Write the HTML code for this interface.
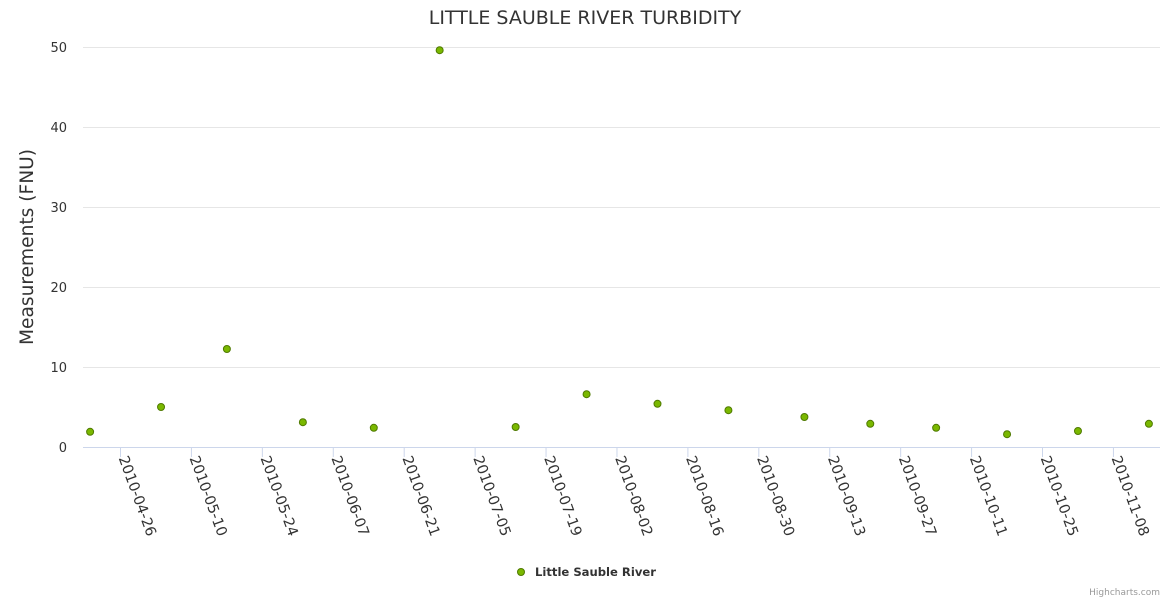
<!DOCTYPE html>
<html><head><meta charset="utf-8"><style>
body{margin:0;background:#fff;font-family:"DejaVu Sans","Liberation Sans",sans-serif}
</style></head><body>
<svg id="c" width="1170" height="600">
<text x="585" y="24" text-anchor="middle" font-size="19" fill="#333">LITTLE SAUBLE RIVER TURBIDITY</text>
<text transform="translate(33,247) rotate(-90)" text-anchor="middle" font-size="18.6" fill="#333">Measurements (FNU)</text>
<g id="grid"></g><g id="xaxis"></g><g id="pts"></g>
<g>
<circle cx="521" cy="572" r="3.5" fill="#7ab800" stroke="#4f7a00"/>
<text x="535" y="576" font-size="11.6" font-weight="bold" fill="#333">Little Sauble River</text></g>
<text x="1160" y="595" text-anchor="end" font-size="9" fill="#999">Highcharts.com</text>
</svg>
<script>
const dates=["2010-04-20","2010-05-04","2010-05-17","2010-06-01","2010-06-15","2010-06-28","2010-07-13","2010-07-27","2010-08-10","2010-08-24","2010-09-08","2010-09-21","2010-10-04","2010-10-18","2010-11-01","2010-11-15"];
const values=[1.9,5.0,12.25,3.1,2.4,49.6,2.5,6.6,5.4,4.6,3.75,2.9,2.4,1.6,2.0,2.9];
const yTicks=[0,10,20,30,40,50];
const xTicks=["2010-04-26","2010-05-10","2010-05-24","2010-06-07","2010-06-21","2010-07-05","2010-07-19","2010-08-02","2010-08-16","2010-08-30","2010-09-13","2010-09-27","2010-10-11","2010-10-25","2010-11-08"];
const NS="http://www.w3.org/2000/svg";
const t0=Date.parse("2010-04-26");
function xs(d){return 120.5+(Date.parse(d)-t0)/86400000*5.066;}
function ys(v){return 447-v*8;}
const grid=document.getElementById('grid'),xa=document.getElementById('xaxis'),pts=document.getElementById('pts');
yTicks.forEach(v=>{
const l=document.createElementNS(NS,'line');


l.setAttribute('x1',83);l.setAttribute('x2',1160);l.setAttribute('y1',ys(v)+.5);l.setAttribute('y2',ys(v)+.5);
l.setAttribute('stroke',v===0?'#ccd6eb':'#e6e6e6');grid.appendChild(l);
const t=document.createElementNS(NS,'text');


t.setAttribute('x',67);t.setAttribute('y',ys(v)+5);t.setAttribute('text-anchor','end');t.setAttribute('font-size','13');t.setAttribute('fill','#333');t.textContent=v;grid.appendChild(t);
});
xTicks.forEach(d=>{
const x=xs(d);
const l=document.createElementNS(NS,'line');


l.setAttribute('x1',x);l.setAttribute('x2',x);l.setAttribute('y1',447);l.setAttribute('y2',457);l.setAttribute('stroke','#ccd6eb');xa.appendChild(l);
const t=document.createElementNS(NS,'text');


t.setAttribute('transform','translate('+(x-2)+',458) rotate(70)');t.setAttribute('font-size','14.5');t.setAttribute('fill','#333');t.textContent=d;xa.appendChild(t);
});
dates.forEach((d,i)=>{
const c=document.createElementNS(NS,'circle');


c.setAttribute('cx',xs(d));c.setAttribute('cy',ys(values[i]));c.setAttribute('r',3.5);c.setAttribute('fill','#7ab800');c.setAttribute('stroke','#4f7a00');pts.appendChild(c);
});
</script>
</body></html>
